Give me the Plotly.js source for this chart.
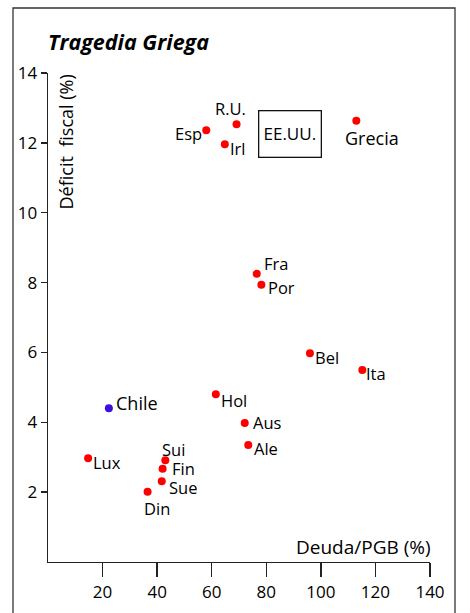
<!DOCTYPE html>
<html>
<head>
<meta charset="utf-8">
<script src="https://cdn.plot.ly/plotly-3.0.1.min.js"></script>
<style>
html,body{margin:0;padding:0;background:#fff;}
#chart{width:470px;height:613px;}
</style>
</head>
<body>
<div id="chart"></div>
<script>
// ---- data ----
const countries = ["Esp","R.U.","Irl","Grecia","Fra","Por","Bel","Ita","Hol","Aus","Ale","Lux","Sui","Fin","Sue","Din"];
const deuda     = [58.0, 69.1, 64.8, 113.0, 76.5, 78.2, 96.0, 115.2, 61.5, 72.1, 73.4, 14.7, 43.0, 42.0, 41.7, 36.5];
const deficit   = [12.36, 12.53, 11.96, 12.63, 8.25, 7.94, 5.98, 5.5, 4.8, 3.98, 3.35, 2.97, 2.91, 2.67, 2.31, 2.01];
const chileName = ["Chile"];
const chileDeuda = [22.3];
const chileDeficit = [4.4];
const boxLabel = "EE.UU.";
const boxDeuda = 88.7;
const boxDeficit = 12.24;
const xTicks = [20, 40, 60, 80, 100, 120, 140];
const yTicks = [2, 4, 6, 8, 10, 12, 14];

// ---- label placement (pixels) ----
const place = {
  "Esp":   {xa:"right",  dx:-3,  dy:-3},
  "R.U.":  {xa:"center", dx:-6,  dy:16},
  "Irl":   {xa:"left",   dx:4,   dy:-4},
  "Grecia":{xa:"left",   dx:-12, dy:-17, big:true},
  "Fra":   {xa:"left",   dx:6,   dy:10},
  "Por":   {xa:"left",   dx:6,   dy:-3},
  "Bel":   {xa:"left",   dx:4,   dy:-4},
  "Ita":   {xa:"left",   dx:3,   dy:-4},
  "Hol":   {xa:"left",   dx:4,   dy:-6},
  "Aus":   {xa:"left",   dx:7,   dy:0},
  "Ale":   {xa:"left",   dx:5,   dy:-4},
  "Lux":   {xa:"left",   dx:4,   dy:-4},
  "Sui":   {xa:"center", dx:8,   dy:11},
  "Fin":   {xa:"left",   dx:8,   dy:0},
  "Sue":   {xa:"left",   dx:6,   dy:-6},
  "Din":   {xa:"center", dx:9,   dy:-17},
  "Chile": {xa:"left",   dx:6,   dy:5, big:true}
};

const FONT = "Open Sans, Noto Sans, DejaVu Sans, sans-serif";
const INK = "#000";

const traces = [
  {x: deuda, y: deficit, mode: "markers", type: "scatter",
   marker: {color: "#ff0000", size: 8}, hoverinfo: "none"},
  {x: chileDeuda, y: chileDeficit, mode: "markers", type: "scatter",
   marker: {color: "#3b12dc", size: 8}, hoverinfo: "none"}
];

const annotations = [];
function addLabels(names, xs, ys) {
  names.forEach((n, i) => {
    const p = place[n];
    annotations.push({
      x: xs[i], y: ys[i], xref: "x", yref: "y", text: n, showarrow: false,
      xanchor: p.xa, yanchor: "middle", xshift: p.dx, yshift: p.dy, borderpad: 0,
      font: {family: FONT, size: p.big ? 18 : 16.5, color: INK}
    });
  });
}
addLabels(countries, deuda, deficit);
addLabels(chileName, chileDeuda, chileDeficit);

annotations.push({
  x: boxDeuda, y: boxDeficit, xref: "x", yref: "y", text: boxLabel, showarrow: false,
  xanchor: "center", yanchor: "middle", width: 61, height: 45, borderpad: 0,
  bordercolor: "#111", borderwidth: 1.3,
  font: {family: FONT, size: 17, color: INK}
});

// axis titles
annotations.push({
  x: 0, y: (562 - 142.5) / 489, xref: "paper", yref: "paper", xshift: 17, text: "Déficit  fiscal (%)",
  showarrow: false, textangle: -90, xanchor: "center", yanchor: "middle",
  font: {family: FONT, size: 18, color: INK}
});
annotations.push({
  x: 1, y: (562 - 547) / 489, xref: "paper", yref: "paper", text: "Deuda/PGB (%)",
  showarrow: false, xanchor: "right", yanchor: "middle", xshift: 3,
  font: {family: FONT, size: 19, color: INK}
});

const layout = {
  width: 470, height: 613,
  margin: {l: 48, r: 40, t: 73, b: 51},
  paper_bgcolor: "#fff", plot_bgcolor: "#fff",
  showlegend: false,
  title: {
    text: "Tragedia Griega", xref: "paper", x: 0, xanchor: "left",
    yref: "container", y: 0.93, yanchor: "middle",
    font: {family: FONT, size: 21.5, weight: "bold", style: "italic", color: INK}
  },
  xaxis: {
    range: [0, 140], tickvals: xTicks, ticktext: xTicks.map(String),
    showgrid: false, zeroline: false, showline: true, linecolor: "#222", linewidth: 1.3,
    ticks: "outside", ticklen: 14, tickwidth: 1.3, tickcolor: "#222",
    tickfont: {family: FONT, size: 17, color: INK}, fixedrange: true
  },
  yaxis: {
    range: [0, 14], tickvals: yTicks, ticktext: yTicks.map(String),
    showgrid: false, zeroline: false, showline: true, linecolor: "#222", linewidth: 1.3,
    ticks: "outside", ticklen: 6, tickwidth: 1.3, tickcolor: "#222",
    tickfont: {family: FONT, size: 17, color: INK}, fixedrange: true
  },
  annotations: annotations,
  shapes: [{
    type: "rect", xref: "paper", yref: "paper",
    x0: (13 - 48) / 382, x1: (455 - 48) / 382,
    y0: (562 - 625) / 489, y1: (562 - 8) / 489,
    line: {color: "#333", width: 1.3}, fillcolor: "rgba(0,0,0,0)", layer: "below"
  }]
};

Plotly.newPlot("chart", traces, layout, {staticPlot: true, displayModeBar: false});
</script>
</body>
</html>
